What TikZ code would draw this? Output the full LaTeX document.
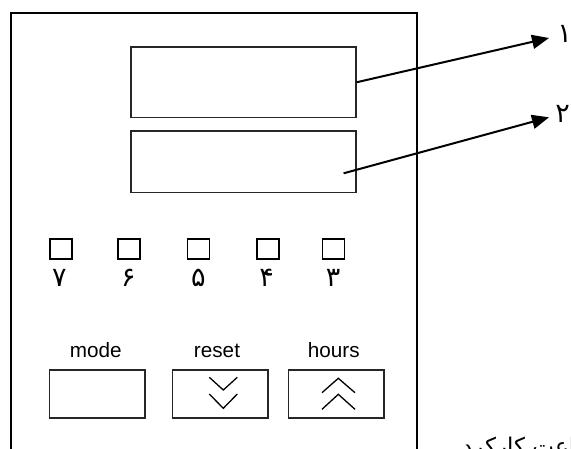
\documentclass[tikz,border=0pt]{standalone}
\usepackage{fontspec}
\setmainfont{Liberation Sans}
\newfontfamily\arabicfont[Script=Arabic]{DejaVu Sans}
\TeXXeTstate=1
\usetikzlibrary{arrows.meta}

\begin{document}
\begin{tikzpicture}[x=1pt,y=-1pt,
  frame/.style={draw=black, line width=2pt},
  display/.style={draw=black!85, line width=1.4pt, minimum width=225pt, inner sep=0pt},
  led/.style={draw=black, line width=1.6pt, minimum width=22pt, minimum height=20pt, inner sep=0pt},
  btn/.style={draw=black!85, line width=1.5pt, minimum width=95.5pt, minimum height=48pt, inner sep=0pt},
  pdigit/.style={font=\arabicfont\fontsize{27}{31}\selectfont, inner sep=0pt},
  blabel/.style={font=\fontsize{20.7}{24}\selectfont, inner sep=0pt, anchor=base},
  pointer/.style={line width=2pt, -{Triangle[length=17pt,width=14pt]}},
  chev/.style={line width=1.3pt},
]
\useasboundingbox (0,0) rectangle (571,448);
% outer frame (continues below the picture's edge)
\draw[frame] (10.5,470) -- (10.5,13) -- (417,13) -- (417,470);

% displays
\node[display, minimum height=70.5pt] (disp1) at (243.5,82.25) {};
\node[display, minimum height=61.3pt] (disp2) at (243.5,161.7) {};

% pointer labels
\node[pdigit] (l1) at (564.5,33.5) {۱};
\node[pdigit] (l2) at (562.5,114) {۲};
\coordinate (t1) at (549,38);
\coordinate (t2) at (549,117.3);
\coordinate (s2) at (343.6,173.3);
\draw[pointer] (disp1.east) -- (t1);
\draw[pointer] (s2) -- (t2);

% LEDs
\node[led] (led7) at (61,249.2) {};
\node[led] (led6) at (129,249.2) {};
\node[led] (led5) at (198.3,249.2) {};
\node[led] (led4) at (267.7,249.2) {};
\node[led] (led3) at (333.3,249.2) {};
\node[pdigit] (d7) at (59.3,278) {۷};
\node[pdigit] (d6) at (128.3,278) {۶};
\node[pdigit] (d5) at (198.3,278) {۵};
\node[pdigit] (d4) at (266.7,278) {۴};
\node[pdigit] (d3) at (333,278) {۳};

% buttons
\node[blabel] (tmode) at (95.8,357.3) {mode};
\node[blabel] (treset) at (217,357.3) {reset};
\node[blabel] (thours) at (333.8,357.3) {hours};
\node[btn] (bmode) at (97.2,394.2) {};
\node[btn] (breset) at (220,394.2) {};
\node[btn] (bhours) at (336,394.2) {};
\draw[chev] (209.3,377.3) -- (223.3,390) -- (237.3,377.3);
\draw[chev] (209.3,394) -- (223.3,408.3) -- (237.3,394);
\draw[chev] (322,392.7) -- (338.3,378.3) -- (355,392.7);
\draw[chev] (322,409.3) -- (338.3,394.3) -- (355,409.3);

% caption, cut by the picture's edges
\node[anchor=base west, inner sep=0pt, font=\arabicfont\fontsize{23}{27}\selectfont] (cap) at (462,454) {\beginR ساعت کارکرد\endR};
\end{tikzpicture}
\end{document}
